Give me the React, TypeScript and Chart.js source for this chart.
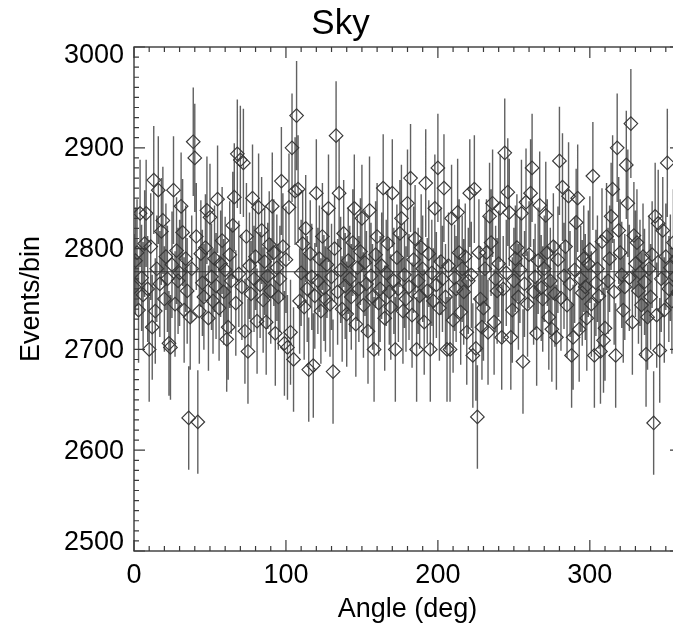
import React, { useEffect, useRef } from 'react';
import { Chart, registerables } from 'chart.js';

Chart.register(...registerables);

const TITLE = 'Sky';
const X_LABEL = 'Angle (deg)';
const Y_LABEL = 'Events/bin';
const X_TICKS = [0, 100, 200, 300];
const Y_TICKS = [2500, 2600, 2700, 2800, 2900, 3000];
const X_MIN = 0;
const X_MAX = 360;
const Y_MIN = 2500;
const Y_MAX = 3000;
const X_MINOR_STEP = 10;
const Y_MINOR_STEP = 10;
const MEAN_LEVEL = 2777;

// one bin per degree, bin start angle
const ANGLES: number[] = Array.from({ length: 360 }, (_, i) => i);

// events per bin (deg 0..359)
const COUNTS: number[] = [
  2762, 2788, 2796, 2739, 2835, 2771, 2754, 2805, 2835, 2760,
  2700, 2802, 2722, 2868, 2738, 2780, 2858, 2765, 2817, 2828,
  2750, 2792, 2770, 2706, 2702, 2784, 2858, 2745, 2798, 2768,
  2776, 2842, 2816, 2739, 2790, 2758, 2632, 2732, 2780, 2906,
  2890, 2812, 2628, 2738, 2795, 2766, 2752, 2801, 2838, 2731,
  2831, 2772, 2748, 2790, 2763, 2849, 2741, 2785, 2808, 2757,
  2779, 2710, 2722, 2794, 2768, 2823, 2851, 2746, 2894, 2775,
  2888, 2762, 2885, 2718, 2812, 2698, 2783, 2755, 2850, 2770,
  2792, 2728, 2841, 2764, 2818, 2749, 2787, 2727, 2773, 2804,
  2758, 2842, 2796, 2716, 2781, 2752, 2770, 2867, 2802, 2706,
  2789, 2702, 2841, 2717, 2900, 2690, 2857, 2932, 2859, 2748,
  2776, 2805, 2742, 2820, 2760, 2680, 2795, 2772, 2684, 2753,
  2855, 2768, 2790, 2738, 2812, 2761, 2750, 2784, 2840, 2745,
  2772, 2678, 2800, 2912, 2757, 2855, 2779, 2740, 2815, 2763,
  2735, 2788, 2770, 2752, 2806, 2840, 2725, 2781, 2760, 2797,
  2830, 2744, 2786, 2765, 2718, 2838, 2773, 2752, 2700, 2794,
  2812, 2746, 2760, 2783, 2860, 2731, 2776, 2805, 2757, 2742,
  2855, 2768, 2700, 2791, 2760, 2815, 2830, 2738, 2774, 2750,
  2845, 2762, 2870, 2734, 2789, 2810, 2700, 2768, 2753, 2801,
  2780, 2727, 2865, 2758, 2795, 2700, 2776, 2748, 2840, 2764,
  2880, 2741, 2787, 2770, 2860, 2752, 2700, 2783, 2700, 2830,
  2729, 2771, 2760, 2836, 2796, 2737, 2780, 2757, 2792, 2717,
  2768, 2855, 2774, 2694, 2859, 2701, 2633, 2796, 2750, 2722,
  2741, 2780, 2796, 2717, 2832, 2806, 2845, 2727, 2770, 2758,
  2785, 2840, 2712, 2760, 2895, 2776, 2856, 2836, 2712, 2739,
  2768, 2790, 2801, 2752, 2779, 2835, 2688, 2765, 2846, 2745,
  2794, 2855, 2880, 2757, 2772, 2716, 2788, 2843, 2761, 2750,
  2780, 2833, 2796, 2732, 2768, 2720, 2802, 2755, 2712, 2789,
  2887, 2751, 2861, 2773, 2802, 2744, 2852, 2765, 2694, 2712,
  2779, 2826, 2850, 2720, 2770, 2756, 2790, 2762, 2731, 2785,
  2799, 2745, 2872, 2694, 2766, 2780, 2753, 2698, 2807, 2709,
  2721, 2812, 2768, 2790, 2832, 2859, 2757, 2694, 2900, 2818,
  2796, 2774, 2739, 2762, 2883, 2845, 2771, 2924, 2727, 2813,
  2785, 2806, 2758, 2776, 2744, 2792, 2767, 2695, 2732, 2780,
  2752, 2794, 2627, 2832, 2734, 2825, 2699, 2770, 2818, 2739,
  2792, 2885, 2760, 2781, 2748, 2806, 2772, 2790, 2757, 2768,
];

// Poisson uncertainty of each bin
const ERRORS: number[] = COUNTS.map((c) => Math.sqrt(c));

const FONT = "'Liberation Sans', Arial, Helvetica, sans-serif";
const TICK_FONT_SIZE = 27;

const errorBarPlugin = {
  id: 'errorBars',
  beforeDatasetsDraw(chart: any) {
    const { ctx, chartArea, scales } = chart;
    const xs = scales.x;
    const ys = scales.y;
    ctx.save();
    ctx.beginPath();
    ctx.rect(chartArea.left, chartArea.top, chartArea.right - chartArea.left, chartArea.bottom - chartArea.top);
    ctx.clip();
    ctx.strokeStyle = 'rgba(80,80,80,0.9)';
    ctx.lineWidth = 1.4;
    ctx.beginPath();
    for (let i = 0; i < COUNTS.length; i++) {
      const px = xs.getPixelForValue(ANGLES[i]);
      const y1 = ys.getPixelForValue(COUNTS[i] - ERRORS[i]);
      const y2 = ys.getPixelForValue(COUNTS[i] + ERRORS[i]);
      ctx.moveTo(px, y1);
      ctx.lineTo(px, y2);
    }
    ctx.stroke();
    ctx.restore();
  },
};

const framePlugin = {
  id: 'frameTicks',
  afterDatasetsDraw(chart: any) {
    const { ctx, chartArea, scales } = chart;
    const xs = scales.x;
    const ys = scales.y;
    const { left, right, top, bottom } = chartArea;
    ctx.save();
    ctx.strokeStyle = '#3a3a3a';
    ctx.lineWidth = 1.4;
    ctx.strokeRect(left, top, right - left, bottom - top);
    ctx.lineWidth = 1.2;
    ctx.beginPath();
    for (let v = X_MIN; v <= X_MAX; v += X_MINOR_STEP) {
      const px = xs.getPixelForValue(v);
      const len = v % 100 === 0 ? 11 : 5;
      ctx.moveTo(px, bottom);
      ctx.lineTo(px, bottom - len);
      ctx.moveTo(px, top);
      ctx.lineTo(px, top + len);
    }
    for (let v = Y_MIN; v <= Y_MAX; v += Y_MINOR_STEP) {
      const py = ys.getPixelForValue(v);
      const len = v % 100 === 0 ? 11 : 5;
      ctx.moveTo(left, py);
      ctx.lineTo(left + len, py);
      ctx.moveTo(right, py);
      ctx.lineTo(right - len, py);
    }
    ctx.stroke();

    // y tick labels, the end labels kept inside the frame as in the original
    ctx.fillStyle = '#000';
    ctx.font = `${TICK_FONT_SIZE}px ${FONT}`;
    ctx.textAlign = 'right';
    ctx.textBaseline = 'middle';
    for (const v of Y_TICKS) {
      let py = ys.getPixelForValue(v);
      if (v === Y_MAX) py += 8;
      if (v === Y_MIN) py -= 9;
      ctx.fillText(String(v), left - 10, py + 1);
    }
    ctx.restore();
  },
};

export default function App() {
  const canvasRef = useRef<HTMLCanvasElement | null>(null);

  useEffect(() => {
    document.body.style.margin = '0';
    document.body.style.overflow = 'hidden';
    const canvas = canvasRef.current;
    if (!canvas) return;
    Chart.defaults.font.family = FONT;

    const chart = new Chart(canvas, {
      type: 'scatter',
      data: {
        datasets: [
          {
            type: 'scatter',
            data: ANGLES.map((a, i) => ({ x: a, y: COUNTS[i] })),
            pointStyle: 'rectRot',
            pointRadius: 6.8,
            borderColor: '#383838',
            borderWidth: 1.15,
            backgroundColor: 'rgba(0,0,0,0)',
            clip: 0,
          } as any,
          {
            type: 'line',
            data: [
              { x: X_MIN, y: MEAN_LEVEL },
              { x: X_MAX, y: MEAN_LEVEL },
            ],
            borderColor: '#333333',
            borderWidth: 1.1,
            pointRadius: 0,
            fill: false,
            clip: 0,
          } as any,
        ],
      },
      options: {
        responsive: false,
        devicePixelRatio: 1,
        animation: false,
        events: [],
        layout: { padding: { left: 0, right: 134, top: 0, bottom: 0 } },
        plugins: {
          legend: { display: false },
          tooltip: { enabled: false },
          title: {
            display: true,
            text: TITLE,
            color: '#000',
            font: { family: FONT, size: 35, weight: 'normal', lineHeight: 1.2 },
            padding: { top: 3, bottom: 2 },
          },
        },
        scales: {
          x: {
            type: 'linear',
            min: X_MIN,
            max: X_MAX,
            afterBuildTicks: (s: any) => {
              s.ticks = X_TICKS.map((value) => ({ value }));
            },
            afterFit: (s: any) => {
              s.height = 76;
            },
            ticks: {
              color: '#000',
              font: { family: FONT, size: TICK_FONT_SIZE },
              padding: 8,
              maxRotation: 0,
              autoSkip: false,
              callback: (v: any) => String(v),
            },
            grid: { display: false, drawTicks: false },
            border: { display: false },
            title: {
              display: true,
              text: X_LABEL,
              color: '#000',
              font: { family: FONT, size: 27 },
              padding: { top: 0, bottom: 1 },
            },
          },
          y: {
            type: 'linear',
            min: Y_MIN,
            max: Y_MAX,
            afterBuildTicks: (s: any) => {
              s.ticks = Y_TICKS.map((value) => ({ value }));
            },
            afterFit: (s: any) => {
              s.width = 134;
            },
            ticks: {
              display: false,
              callback: (v: any) => String(v),
            },
            grid: { display: false, drawTicks: false },
            border: { display: false },
            title: {
              display: true,
              text: Y_LABEL,
              color: '#000',
              font: { family: FONT, size: 27 },
              padding: { top: 15, bottom: 0 },
            },
          },
        },
      },
      plugins: [errorBarPlugin, framePlugin],
    } as any);

    return () => {
      chart.destroy();
    };
  }, []);

  return (
    <div style={{ position: 'relative', width: 673, height: 627, overflow: 'hidden', background: '#fff' }}>
      <canvas ref={canvasRef} width={815} height={627} style={{ display: 'block', width: 815, height: 627 }} />
    </div>
  );
}
